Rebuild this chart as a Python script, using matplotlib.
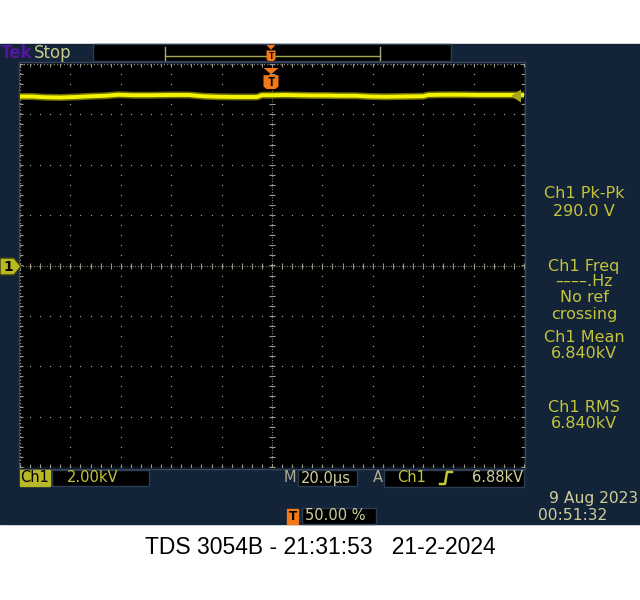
import numpy as np
import matplotlib
matplotlib.use("Agg")
import matplotlib.pyplot as plt
from matplotlib.patches import Rectangle, Polygon

# trace of channel 1 (time in us, voltage in kV)
time_us = [-100, -95, -90, -84, -78, -72, -66, -61, -55, -48, -40, -33, -27, -21,
           -14, -6, -4, 0, 5, 10, 16, 21, 27, 33, 39, 45, 52, 60, 62, 68, 75, 82,
           90, 96, 100]
ch1_kv = [6.71, 6.71, 6.68, 6.67, 6.69, 6.72, 6.74, 6.78, 6.76, 6.76, 6.77, 6.77,
          6.72, 6.70, 6.69, 6.69, 6.76, 6.76, 6.77, 6.76, 6.75, 6.75, 6.74, 6.74,
          6.71, 6.70, 6.71, 6.72, 6.77, 6.78, 6.78, 6.77, 6.77, 6.77, 6.77]

volts_per_div = 2.0     # kV
time_per_div = 20.0     # us
meas_labels = ["Ch1 Pk-Pk", "290.0 V", "Ch1 Freq", "\u2013\u2013\u2013\u2013.Hz", "No ref",
               "crossing", "Ch1 Mean", "6.840kV", "Ch1 RMS", "6.840kV"]
meas_y = [194, 211, 266, 282, 298, 314, 337, 353, 408, 424]
title = "TDS 3054B - 21:31:53   21-2-2024"

navy = "#132338"
khaki = "#c4c43a"
pale = "#cfcf9c"
grey = "#9a9a8a"
orange = "#f07818"

fig = plt.figure(figsize=(6.4, 6.0), dpi=100)
fig.patch.set_facecolor("white")

# background layer (pixel coordinates)
bg = fig.add_axes([0, 0, 1, 1])
bg.set_xlim(0, 640)
bg.set_ylim(600, 0)
bg.axis("off")
bg.add_patch(Rectangle((0, 44), 640, 480, color=navy))
bg.add_patch(Rectangle((93, 44), 358, 17, facecolor="black", edgecolor="#2c3c52", lw=1))
bg.plot([165, 380], [56, 56], color="#a8a850", lw=1)
bg.plot([165, 165], [47, 60], color="#a8a880", lw=1)
bg.plot([380, 380], [47, 60], color="#a8a880", lw=1)
bg.add_patch(Rectangle((18.5, 62), 506, 406.5, facecolor="#0a1224", edgecolor="#3a4656", lw=1))

# graticule + trace
ax = fig.add_axes([20 / 640, (600 - 467) / 600, 504 / 640, 403 / 600])
ax.set_facecolor("black")
ax.set_xlim(-5 * time_per_div, 5 * time_per_div)
ax.set_ylim(-4 * volts_per_div, 4 * volts_per_div)
for s in ax.spines.values():
    s.set_visible(False)
ax.set_xticks([])
ax.set_yticks([])

xs_minor = np.arange(-100, 100.01, time_per_div / 5)
ys_minor = np.arange(-8, 8.01, volts_per_div / 5)
for gx in np.arange(-80, 81, time_per_div):
    if gx != 0:
        ax.plot(np.full_like(ys_minor, gx), ys_minor, ls="none", marker="s", ms=0.9,
                color=grey, mew=0)
for gy in np.arange(-6, 7, volts_per_div):
    if gy != 0:
        ax.plot(xs_minor, np.full_like(xs_minor, gy), ls="none", marker="s", ms=0.9,
                color=grey, mew=0)
# centre cross and border with dense dots and ticks
ax.axhline(0, color=grey, lw=0.8, ls=(0, (0.8, 1.6)))
ax.axvline(0, color=grey, lw=0.8, ls=(0, (0.8, 1.6)))
ax.plot(xs_minor, np.zeros_like(xs_minor), ls="none", marker="|", ms=4, mew=0.8, color=grey)
ax.plot(np.zeros_like(ys_minor), ys_minor, ls="none", marker="_", ms=4, mew=0.8, color=grey)
for e in (-8, 8):
    ax.axhline(e, color=grey, lw=1.0, ls=(0, (0.8, 1.6)))
    ax.plot(xs_minor, np.full_like(xs_minor, e), ls="none", marker="|", ms=4, mew=0.8, color=grey)
for e in (-100, 100):
    ax.axvline(e, color=grey, lw=1.0, ls=(0, (0.8, 1.6)))
    ax.plot(np.full_like(ys_minor, e), ys_minor, ls="none", marker="_", ms=4, mew=0.8, color=grey)

ax.plot(time_us, ch1_kv, color="#6a6a08", lw=5, zorder=5)
ax.plot(time_us, ch1_kv, color="#f4f400", lw=2.8, zorder=6)

# overlay for markers and text
ov = fig.add_axes([0, 0, 1, 1])
ov.set_xlim(0, 640)
ov.set_ylim(600, 0)
ov.axis("off")
ov.patch.set_alpha(0)

# channel 1 ground marker
ov.add_patch(Polygon([(0, 258), (14, 258), (21, 266.5), (14, 275), (0, 275)],
                     facecolor="#b8b820", edgecolor="#3a3a10", lw=1))
ov.text(8, 267, "1", color="black", fontsize=10, fontweight="bold", ha="center", va="center")
# trigger level arrow
ov.add_patch(Polygon([(511, 96), (521, 89.5), (521, 102.5)],
                     facecolor="#a8a818", edgecolor="none", zorder=7))


def t_marker(x, y, w, h, fs):
    ov.add_patch(Polygon([(x - w / 2, y), (x + w / 2, y), (x, y + h * 0.3)],
                         facecolor=orange, edgecolor="none"))
    ov.add_patch(Polygon([(x - w / 2, y + h * 0.34), (x + w / 2, y + h * 0.34),
                          (x + w / 2, y + h * 0.88), (x + w * 0.3, y + h),
                          (x - w * 0.3, y + h), (x - w / 2, y + h * 0.88)],
                         facecolor=orange, edgecolor="none"))
    ov.text(x, y + h * 0.70, "T", color="black", fontsize=fs, fontweight="bold",
            ha="center", va="center", family="DejaVu Sans Mono")


t_marker(271, 68, 15, 21, 9)
t_marker(271, 45, 9, 16, 6.5)

# top-left status
ov.text(1, 52.5, "Tek", color="#50179a", fontsize=12, fontweight="bold", va="center")
ov.text(34, 52.5, "Stop", color="#c8c88a", fontsize=12, va="center")

# measurements on the right
for lbl, yy in zip(meas_labels, meas_y):
    ov.text(584, yy, lbl, color=khaki, fontsize=11.5, ha="center", va="center")

# bottom status line
ov.add_patch(Rectangle((20, 470), 30, 16, color="#b8b828"))
ov.text(35, 478, "Ch1", color="black", fontsize=10.5, ha="center", va="center")
ov.add_patch(Rectangle((52, 470), 97, 16, facecolor="black", edgecolor="#2c3c52"))
ov.text(67, 478, "2.00kV", color=khaki, fontsize=10.5, va="center")
ov.text(284, 478, "M", color="#b0b090", fontsize=10.5, va="center")
ov.add_patch(Rectangle((298, 470), 59, 16, facecolor="black", edgecolor="#2c3c52"))
ov.text(301, 478, "20.0\u00b5s", color=pale, fontsize=10.5, va="center")
ov.text(373, 478, "A", color="#b0b090", fontsize=10.5, va="center")
ov.add_patch(Rectangle((384, 470), 140, 17, facecolor="black", edgecolor="#2c3c52"))
ov.text(397, 478, "Ch1", color=khaki, fontsize=10.5, va="center")
ov.plot([440, 445, 447, 452], [484, 484, 472, 472], color=khaki, lw=1.8)
ov.text(523, 478, "6.88kV", color=pale, fontsize=10.5, ha="right", va="center")

ov.add_patch(Rectangle((287, 509), 11, 15, color=orange))
ov.text(292.5, 516, "T", color="black", fontsize=8.5, fontweight="bold", ha="center", va="center")
ov.add_patch(Rectangle((302, 508), 74, 16, facecolor="black", edgecolor="#2c3c52"))
ov.text(305, 516, "50.00 %", color=pale, fontsize=10.5, va="center")
ov.text(638, 499, "9 Aug 2023", color=pale, fontsize=11.2, ha="right", va="center")
ov.text(538, 516, "00:51:32", color=pale, fontsize=11.2, va="center")

ov.text(320, 548, title, color="black", fontsize=16.5, family="Liberation Sans",
        ha="center", va="center")

fig.savefig("out.png", dpi=100, facecolor="white")
